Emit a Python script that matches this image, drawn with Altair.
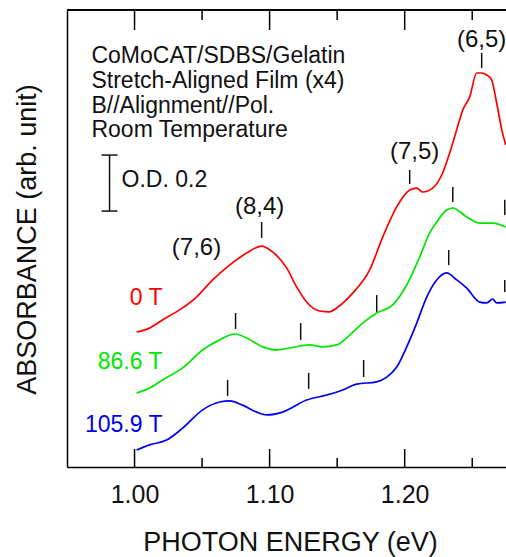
import altair as alt
import pandas as pd

FONT = "Liberation Sans"

# ---- spectra (photon energy in eV, absorbance in O.D., offset per field) ----
energy_0T = [1.0015, 1.0111, 1.0207, 1.0333, 1.0459, 1.0578, 1.0704, 1.0830, 1.0941, 1.1022,
             1.1126, 1.1200, 1.1274, 1.1370, 1.1444, 1.1496, 1.1615, 1.1741, 1.1837, 1.1941,
             1.2037, 1.2089, 1.2133, 1.2207, 1.2281, 1.2333, 1.2385, 1.2430, 1.2481, 1.2533,
             1.2570, 1.2607, 1.2644, 1.2681, 1.2719, 1.2748]
abs_0T = [0.482, 0.496, 0.525, 0.561, 0.607, 0.668, 0.721, 0.764, 0.789, 0.768,
          0.711, 0.643, 0.589, 0.557, 0.554, 0.568, 0.621, 0.704, 0.821, 0.929,
          0.989, 0.996, 0.982, 0.996, 1.050, 1.121, 1.204, 1.275, 1.321, 1.407,
          1.407, 1.400, 1.382, 1.300, 1.204, 1.150]

energy_86T = [1.0015, 1.0111, 1.0207, 1.0356, 1.0504, 1.0630, 1.0741, 1.0830, 1.0948, 1.1052,
              1.1148, 1.1296, 1.1393, 1.1496, 1.1593, 1.1689, 1.1793, 1.1911, 1.2015, 1.2111,
              1.2185, 1.2237, 1.2311, 1.2356, 1.2459, 1.2556, 1.2652, 1.2748]
abs_86T = [0.264, 0.282, 0.311, 0.354, 0.418, 0.454, 0.475, 0.461, 0.429, 0.418,
           0.425, 0.436, 0.429, 0.436, 0.471, 0.514, 0.550, 0.579, 0.650, 0.750,
           0.836, 0.875, 0.918, 0.925, 0.893, 0.871, 0.871, 0.857]

energy_106T = [1.0015, 1.0111, 1.0237, 1.0356, 1.0504, 1.0630, 1.0704, 1.0800, 1.0904, 1.0978,
               1.1096, 1.1274, 1.1422, 1.1541, 1.1644, 1.1793, 1.1867, 1.1941, 1.2015, 1.2089,
               1.2163, 1.2237, 1.2311, 1.2385, 1.2459, 1.2556, 1.2607, 1.2652, 1.2681, 1.2748]
abs_106T = [0.061, 0.079, 0.096, 0.139, 0.204, 0.232, 0.236, 0.221, 0.196, 0.186,
            0.196, 0.239, 0.257, 0.275, 0.296, 0.304, 0.321, 0.357, 0.429, 0.514,
            0.607, 0.668, 0.693, 0.668, 0.639, 0.589, 0.586, 0.600, 0.586, 0.589]

fields = ["0 T", "86.6 T", "105.9 T"]
colors = ["#ff0000", "#00e600", "#0000f0"]

# field labels
label_energy = [1.0207, 1.0207, 1.0207]
label_abs = [0.604, 0.375, 0.150]

# feature markers (short vertical bars)
mark_energy = [1.0941, 1.2037, 1.2570,
               1.0748, 1.1230, 1.1793, 1.2356, 1.2741,
               1.0689, 1.1289, 1.1696, 1.2326, 1.2741]
mark_top = [0.875, 1.061, 1.479,
            0.550, 0.514, 0.614, 1.000, 0.954,
            0.311, 0.336, 0.382, 0.775, 0.668]
mark_bottom = [0.818, 1.011, 1.425,
               0.493, 0.454, 0.554, 0.946, 0.900,
               0.254, 0.279, 0.321, 0.721, 0.625]

# chirality labels
chir_text = ["(7,6)", "(8,4)", "(7,5)", "(6,5)"]
chir_energy = [1.0459, 1.0926, 1.2074, 1.2570]
chir_abs = [0.782, 0.929, 1.125, 1.525]

# info text
info_text = ["CoMoCAT/SDBS/Gelatin", "Stretch-Aligned Film (x4)", "B//Alignment//Pol.", "Room Temperature"]
info_energy = [0.9681, 0.9681, 0.9681, 0.9681]
info_abs = [1.443, 1.354, 1.264, 1.179]

# O.D. scale bar
od_energy = [0.9815]
od_left = [0.9756]
od_right = [0.9874]
od_top = [1.114]
od_bottom = [0.914]
od_text = ["O.D. 0.2"]
od_text_energy = [0.9904]
od_text_abs = [1.025]

major_ticks = [1.00, 1.10, 1.20]
minor_ticks = [1.05, 1.15, 1.25]

W, H = 439, 457

spec_rows = []
for f, es, ys in zip(fields, [energy_0T, energy_86T, energy_106T], [abs_0T, abs_86T, abs_106T]):
    for e, a in zip(es, ys):
        spec_rows.append({"energy": e, "absorbance": a, "field": f})
spec = pd.DataFrame(spec_rows)

xscale = alt.Scale(domain=[0.95, 1.275], nice=False, zero=False)
yscale = alt.Scale(domain=[0, 1.632], nice=False, zero=False)
cscale = alt.Scale(domain=fields, range=colors)

x_axis = alt.Axis(values=major_ticks, format=".2f", ticks=False, grid=False,
                  labelFont=FONT, labelFontSize=25, labelColor="#111", labelPadding=15,
                  domainColor="#000", domainWidth=1.5,
                  title="PHOTON ENERGY (eV)", titleFont=FONT, titleFontSize=27,
                  titleFontWeight="normal", titleColor="#111",
                  titleX=223, titleY=83, titleBaseline="alphabetic", titleAlign="center")
y_axis = alt.Axis(labels=False, ticks=False, grid=False,
                  domainColor="#000", domainWidth=1.5,
                  title="ABSORBANCE (arb. unit)", titleFont=FONT, titleFontSize=27,
                  titleFontWeight="normal", titleColor="#111",
                  titleX=-32, titleY=229, titleBaseline="alphabetic", titleAlign="center",
                  titleAngle=270)

lines = alt.Chart(spec).mark_line(strokeWidth=1.7, clip=True, interpolate="monotone").encode(
    x=alt.X("energy:Q", scale=xscale, axis=x_axis),
    y=alt.Y("absorbance:Q", scale=yscale, axis=y_axis),
    color=alt.Color("field:N", scale=cscale, legend=None),
)

labels = alt.Chart(pd.DataFrame({"energy": label_energy, "absorbance": label_abs, "field": fields})).mark_text(
    font=FONT, fontSize=23, align="right", baseline="middle").encode(
    x=alt.X("energy:Q", scale=xscale), y=alt.Y("absorbance:Q", scale=yscale),
    text="field:N", color=alt.Color("field:N", scale=cscale, legend=None))

markers = alt.Chart(pd.DataFrame({"energy": mark_energy, "top": mark_top, "bottom": mark_bottom})).mark_rule(
    color="#111", strokeWidth=1.5, clip=True).encode(
    x=alt.X("energy:Q", scale=xscale), y=alt.Y("top:Q", scale=yscale), y2="bottom:Q")

chir = alt.Chart(pd.DataFrame({"energy": chir_energy, "absorbance": chir_abs, "t": chir_text})).mark_text(
    font=FONT, fontSize=24, align="center", baseline="middle", color="#111").encode(
    x=alt.X("energy:Q", scale=xscale), y=alt.Y("absorbance:Q", scale=yscale), text="t:N")

info = alt.Chart(pd.DataFrame({"energy": info_energy, "absorbance": info_abs, "t": info_text})).mark_text(
    font=FONT, fontSize=23, align="left", baseline="alphabetic", color="#111").encode(
    x=alt.X("energy:Q", scale=xscale), y=alt.Y("absorbance:Q", scale=yscale), text="t:N")

od_df = pd.DataFrame({"energy": od_energy, "left": od_left, "right": od_right,
                      "top": od_top, "bottom": od_bottom})
od_bar = alt.Chart(od_df).mark_rule(color="#111", strokeWidth=1.5).encode(
    x=alt.X("energy:Q", scale=xscale), y=alt.Y("top:Q", scale=yscale), y2="bottom:Q")
od_cap_top = alt.Chart(od_df).mark_rule(color="#111", strokeWidth=1.5).encode(
    x=alt.X("left:Q", scale=xscale), x2="right:Q", y=alt.Y("top:Q", scale=yscale))
od_cap_bot = alt.Chart(od_df).mark_rule(color="#111", strokeWidth=1.5).encode(
    x=alt.X("left:Q", scale=xscale), x2="right:Q", y=alt.Y("bottom:Q", scale=yscale))
od_label = alt.Chart(pd.DataFrame({"energy": od_text_energy, "absorbance": od_text_abs, "t": od_text})).mark_text(
    font=FONT, fontSize=23, align="left", baseline="middle", color="#111").encode(
    x=alt.X("energy:Q", scale=xscale), y=alt.Y("absorbance:Q", scale=yscale), text="t:N")

maj = pd.DataFrame({"energy": major_ticks})
mnr = pd.DataFrame({"energy": minor_ticks})
tick_bot_maj = alt.Chart(maj).mark_rule(color="#000", strokeWidth=1.5).encode(
    x=alt.X("energy:Q", scale=xscale), y=alt.value(H), y2=alt.value(H - 18))
tick_bot_min = alt.Chart(mnr).mark_rule(color="#000", strokeWidth=1.5).encode(
    x=alt.X("energy:Q", scale=xscale), y=alt.value(H), y2=alt.value(H - 9))
tick_top_maj = alt.Chart(maj).mark_rule(color="#000", strokeWidth=1.5).encode(
    x=alt.X("energy:Q", scale=xscale), y=alt.value(0), y2=alt.value(20))
tick_top_min = alt.Chart(mnr).mark_rule(color="#000", strokeWidth=1.5).encode(
    x=alt.X("energy:Q", scale=xscale), y=alt.value(0), y2=alt.value(10))
top_border = alt.Chart(maj).mark_rule(color="#000", strokeWidth=1.5).encode(
    x=alt.value(0), x2=alt.value(W + 5), y=alt.value(0))

chart = alt.layer(
    lines, labels, markers, chir, info, od_bar, od_cap_top, od_cap_bot, od_label,
    tick_bot_maj, tick_bot_min, tick_top_maj, tick_top_min, top_border
).properties(
    width=W, height=H,
    padding={"left": 67, "top": 10, "right": 0, "bottom": 90},
    autosize=alt.AutoSizeParams(type="none"),
    background="white",
).configure_view(stroke=None)

chart.save("out.html", embed_options={"renderer": "svg", "actions": False})
